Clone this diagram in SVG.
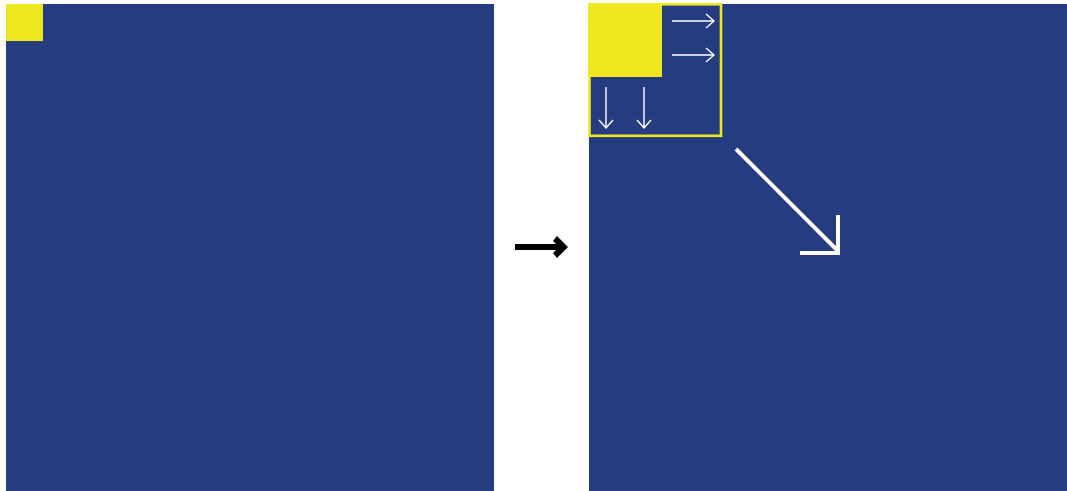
<svg xmlns="http://www.w3.org/2000/svg" width="1067" height="491" viewBox="0 0 1067 491">
<style>
.blue{fill:#253c80}
.yel{fill:#f0e81e}
.thin{stroke:#ffffff;stroke-width:1.4;fill:none}
.thick{stroke:#ffffff;stroke-width:4;fill:none}
</style>
<rect width="1067" height="491" fill="#ffffff"/>
<g id="left-panel">
<rect class="blue" x="6" y="4" width="488" height="487"/>
<rect class="yel" x="6" y="4" width="37" height="37"/>
</g>
<g id="transition-arrow">
<rect x="515" y="244" width="44" height="6" fill="#000000"/>
<polygon points="553,241 557,236 568,247 557,258 553,253 559,247" fill="#000000"/>
</g>
<g id="right-panel">
<rect class="blue" x="589" y="4" width="478" height="487"/>
<rect class="yel" x="588" y="3" width="74" height="74"/>
<rect x="589.5" y="4.3" width="131.5" height="131.5" fill="none" stroke="#f0e81e" stroke-width="2.6"/>
</g>
<g id="connectors">
<path class="thin" d="M672,21 H714 M706,14 L714,21 L706,28"/>
<path class="thin" d="M672,55 H714 M706,48 L714,55 L706,62"/>
<path class="thin" d="M606,87 V128 M599,120 L606,128 L613,120"/>
<path class="thin" d="M644,87 V128 M637,120 L644,128 L651,120"/>
<path class="thick" d="M736,149 L838,251 M838,215 V253 H800"/>
</g>
</svg>
